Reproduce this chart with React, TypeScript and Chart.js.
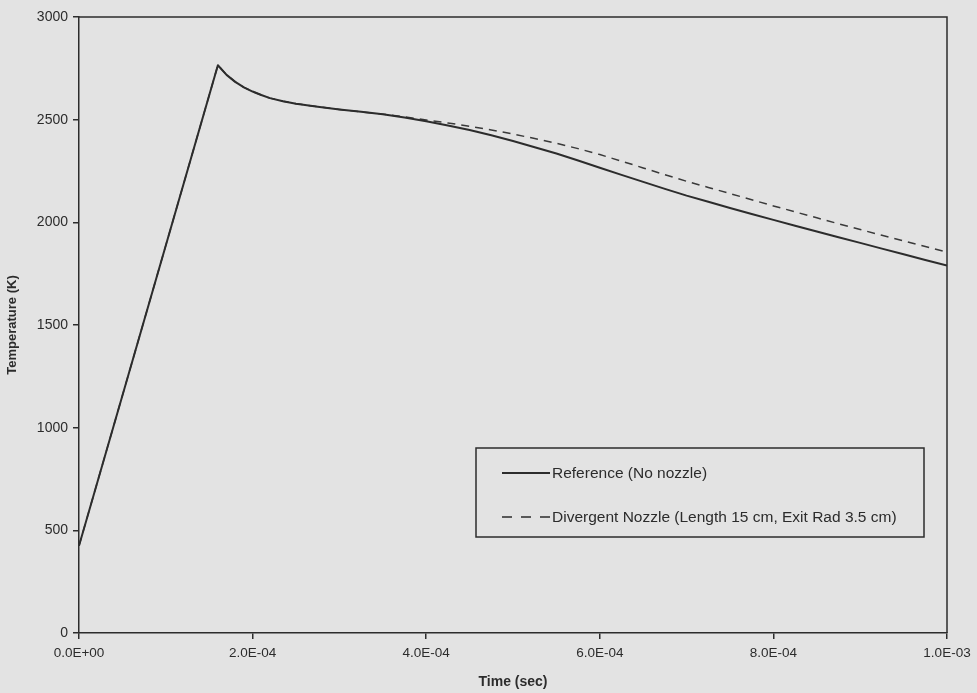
import React, { useEffect, useRef } from "react";
import { Chart, registerables } from "chart.js";

Chart.register(...registerables);

// Time (s) sample points
const times: number[] = [
  0, 1.6e-4, 1.7e-4, 1.8e-4, 1.9e-4, 2.0e-4, 2.1e-4, 2.2e-4, 2.35e-4, 2.5e-4,
  2.75e-4, 3.0e-4, 3.25e-4, 3.5e-4, 3.75e-4, 4.0e-4, 4.25e-4, 4.5e-4, 4.75e-4, 5.0e-4,
  5.25e-4, 5.5e-4, 5.75e-4, 6.0e-4, 6.25e-4, 6.5e-4, 6.75e-4, 7.0e-4, 7.25e-4, 7.5e-4,
  7.75e-4, 8.0e-4, 8.25e-4, 8.5e-4, 8.75e-4, 9.0e-4, 9.25e-4, 9.5e-4, 9.75e-4, 1.0e-3,
];
// Temperature (K) — Reference (No nozzle)
const referenceTemps: number[] = [
  425, 2765, 2718, 2684, 2657, 2637, 2620, 2605, 2590, 2578,
  2563, 2550, 2538, 2526, 2510, 2492, 2472, 2450, 2424, 2396,
  2366, 2335, 2301, 2266, 2231, 2197, 2163, 2130, 2100, 2070,
  2041, 2012, 1983, 1955, 1927, 1900, 1872, 1845, 1817, 1790,
];
// Temperature (K) — Divergent Nozzle
const nozzleTemps: number[] = [
  425, 2765, 2718, 2684, 2657, 2637, 2620, 2605, 2590, 2578,
  2563, 2550, 2538, 2527, 2514, 2498, 2484, 2468, 2450, 2430,
  2408, 2385, 2359, 2330, 2298, 2265, 2232, 2200, 2170, 2140,
  2110, 2080, 2051, 2022, 1993, 1965, 1937, 1910, 1882, 1855,
];
const yTicks: number[] = [0, 500, 1000, 1500, 2000, 2500, 3000];
const xTicks: number[] = [0, 2e-4, 4e-4, 6e-4, 8e-4, 1e-3];
const seriesNames: string[] = [
  "Reference (No nozzle)",
  "Divergent Nozzle (Length 15 cm, Exit Rad 3.5 cm)",
];

const BG = "#e3e3e3";
const INK = "#2c2c2c";
const FONT = "'Liberation Sans', Arial, sans-serif";

function fmtExp(v: number): string {
  if (Math.abs(v) < 1e-12) return "0.0E+00";
  const s = v.toExponential(1);
  const [m, e] = s.split("e");
  const n = parseInt(e, 10);
  const sign = n < 0 ? "-" : "+";
  const abs = Math.abs(n);
  return m + "E" + sign + (abs < 10 ? "0" + abs : String(abs));
}

const framePlugin = {
  id: "frameAndLegend",
  afterDraw(chart: any) {
    const { ctx, chartArea } = chart;
    ctx.save();
    ctx.strokeStyle = INK;
    ctx.lineWidth = 1.5;
    ctx.beginPath();
    ctx.moveTo(chartArea.left, chartArea.top);
    ctx.lineTo(chartArea.right, chartArea.top);
    ctx.lineTo(chartArea.right, chartArea.bottom);
    ctx.stroke();

    // legend box
    const lx = 476, ly = 448, lw = 448, lh = 89;
    ctx.strokeRect(lx, ly, lw, lh);
    const rows = [
      { y: 473, dash: [] as number[], name: seriesNames[0], w: 2 },
      { y: 517, dash: [10, 9], name: seriesNames[1], w: 1.5 },
    ];
    ctx.font = `15.5px ${FONT}`;
    ctx.textBaseline = "middle";
    ctx.textAlign = "left";
    for (const r of rows) {
      ctx.setLineDash(r.dash);
      ctx.lineWidth = r.w;
      ctx.beginPath();
      ctx.moveTo(502, r.y);
      ctx.lineTo(550, r.y);
      ctx.stroke();
      ctx.setLineDash([]);
      ctx.fillStyle = INK;
      ctx.fillText(r.name, 552, r.y + 1);
    }
    ctx.restore();
  },
};

export default function App() {
  const ref = useRef<HTMLCanvasElement | null>(null);

  useEffect(() => {
    document.body.style.margin = "0";
    document.body.style.background = BG;
    const canvas = ref.current!;
    const chart = new Chart(canvas, {
      type: "line",
      data: {
        datasets: [
          {
            label: seriesNames[0],
            data: times.map((t, i) => ({ x: t, y: referenceTemps[i] })),
            borderColor: INK,
            borderWidth: 2,
            pointRadius: 0,
            tension: 0,
            borderJoinStyle: "round",
          },
          {
            label: seriesNames[1],
            data: times.map((t, i) => ({ x: t, y: nozzleTemps[i] })),
            borderColor: "#3a3a3a",
            borderWidth: 1.5,
            borderDash: [8, 6],
            pointRadius: 0,
            tension: 0,
          },
        ],
      },
      options: {
        animation: false,
        responsive: false,
        maintainAspectRatio: false,
        layout: { padding: { left: 0, right: 30, top: 17, bottom: 0 } },
        plugins: {
          legend: { display: false },
          tooltip: { enabled: false },
        },
        scales: {
          x: {
            type: "linear",
            min: 0,
            max: 1e-3,
            afterBuildTicks: (scale: any) => {
              scale.ticks = xTicks.map((v) => ({ value: v }));
            },
            afterFit: (scale: any) => {
              scale.height = 60;
            },
            ticks: {
              callback: (v: any) => fmtExp(Number(v)),
              color: INK,
              font: { family: FONT, size: 13.5 },
              padding: 6,
              maxRotation: 0,
              autoSkip: false,
            },
            grid: {
              drawOnChartArea: false,
              drawTicks: true,
              tickLength: 6,
              color: INK,
              lineWidth: 1.5,
            },
            border: { display: true, color: INK, width: 1.5 },
            title: {
              display: true,
              text: "Time (sec)",
              color: INK,
              font: { family: FONT, size: 14, weight: "bold" },
              padding: { top: 0, bottom: 2 },
            },
          },
          y: {
            type: "linear",
            min: 0,
            max: 3000,
            afterBuildTicks: (scale: any) => {
              scale.ticks = yTicks.map((v) => ({ value: v }));
            },
            afterFit: (scale: any) => {
              scale.width = 79;
            },
            ticks: {
              callback: (v: any) => String(v),
              color: INK,
              font: { family: FONT, size: 14 },
              padding: 5,
            },
            grid: {
              drawOnChartArea: false,
              drawTicks: true,
              tickLength: 6,
              color: INK,
              lineWidth: 1.5,
            },
            border: { display: true, color: INK, width: 1.5 },
            title: {
              display: true,
              text: "Temperature (K)",
              color: INK,
              font: { family: FONT, size: 13, weight: "bold" },
              padding: { top: 5, bottom: 0 },
            },
          },
        },
      },
      plugins: [framePlugin],
    } as any);
    return () => chart.destroy();
  }, []);

  return (
    <div style={{ width: 977, height: 693, background: BG }}>
      <canvas ref={ref} width={977} height={693} style={{ display: "block" }} />
    </div>
  );
}
